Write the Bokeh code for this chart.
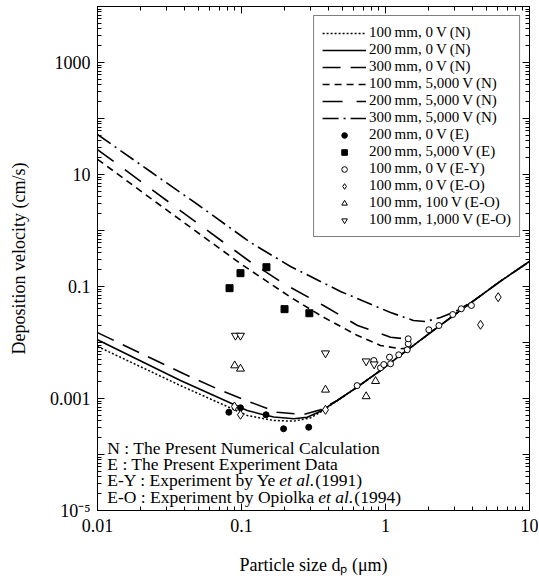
from bokeh.plotting import figure
from bokeh.models import (LogAxis, FixedTicker, CustomJSTickFormatter, Legend,
                          LegendItem, Label)
from bokeh.embed import file_html
from bokeh.resources import INLINE

FONT = "Liberation Serif"

# ---------------- numerical curves (N) ----------------
x_100_0V = [0.01, 0.0377, 0.0643, 0.1096, 0.1676, 0.2307, 0.301, 0.354, 0.462, 0.635, 0.923, 1.22, 2.15, 3.69, 6.3, 10]
y_100_0V = [0.0085, 0.0017, 0.00092, 0.000497, 0.000405, 0.000394, 0.00045, 0.00057, 0.00092, 0.00159, 0.00316, 0.0055, 0.0164, 0.0458, 0.125, 0.28]

x_200_0V = [0.01, 0.0377, 0.0643, 0.0885, 0.1096, 0.1355, 0.1676, 0.2307, 0.2857, 0.354, 0.462, 0.635, 0.923, 1.22, 2.15, 3.69, 6.3, 10]
y_200_0V = [0.0112, 0.0021, 0.00113, 0.00078, 0.00061, 0.00053, 0.000466, 0.000435, 0.000463, 0.00059, 0.00092, 0.00159, 0.00316, 0.0055, 0.0164, 0.0458, 0.125, 0.28]

x_300_0V = [0.01, 0.0397, 0.0678, 0.1155, 0.177, 0.271, 0.354, 0.462, 0.635, 0.923, 1.22, 2.15, 3.69, 6.3, 10]
y_300_0V = [0.015, 0.00276, 0.00149, 0.00086, 0.000569, 0.000518, 0.00063, 0.00092, 0.00159, 0.00316, 0.0055, 0.0164, 0.0458, 0.125, 0.28]

x_100_5kV = [0.01, 0.0233, 0.0519, 0.1, 0.219, 0.371, 0.64, 0.923, 1.27, 1.445]
y_100_5kV = [18.7, 3.79, 0.845, 0.249, 0.0644, 0.0283, 0.0133, 0.00884, 0.00773, 0.00798]

x_200_5kV = [0.01, 0.0233, 0.0519, 0.1155, 0.196, 0.371, 0.64, 1.084, 1.42, 1.49]
y_200_5kV = [27.9, 5.62, 1.23, 0.274, 0.113, 0.0458, 0.0201, 0.01245, 0.01153, 0.0085]

x_300_5kV = [0.01, 0.0233, 0.0519, 0.1155, 0.219, 0.487, 1.084, 1.563, 1.90, 2.41, 3.06, 3.71]
y_300_5kV = [51.8, 11.3, 2.68, 0.61, 0.228, 0.0815, 0.0343, 0.0247, 0.0237, 0.0279, 0.0358, 0.0478]

# ---------------- experimental data ----------------
x_E_200_0V = [0.0817, 0.0984, 0.148, 0.196, 0.293]
y_E_200_0V = [0.000569, 0.000682, 0.000512, 0.000288, 0.000307]

x_E_200_5kV = [0.0826, 0.0984, 0.149, 0.199, 0.296]
y_E_200_5kV = [0.0933, 0.173, 0.221, 0.0394, 0.0333]

x_EY_100_0V = [0.635, 0.83, 0.923, 0.973, 1.066, 1.084, 1.236, 1.415, 1.438, 1.438, 2.0, 2.35, 2.93, 3.36, 3.95]
y_EY_100_0V = [0.0017, 0.00477, 0.00353, 0.00404, 0.00547, 0.00417, 0.00603, 0.00742, 0.00948, 0.01164, 0.01687, 0.0201, 0.0316, 0.04, 0.0458]

x_EO_100_0V = [0.0893, 0.0984, 0.383, 4.57, 6.06]
y_EO_100_0V = [0.00072, 0.000512, 0.000628, 0.0207, 0.0644]

x_EO_100_100V = [0.0897, 0.0984, 0.383, 0.734, 0.853]
y_EO_100_100V = [0.00388, 0.00339, 0.00143, 0.00109, 0.00204]

x_EO_100_1kV = [0.0908, 0.0984, 0.383, 0.734, 0.834]
y_EO_100_1kV = [0.0133, 0.0133, 0.00644, 0.00463, 0.00409]

T = "\u2009"
labels = [
    f"100{T}mm, 0{T}V{T}(N)", f"200{T}mm, 0{T}V{T}(N)", f"300{T}mm, 0{T}V{T}(N)",
    f"100{T}mm, 5,000{T}V{T}(N)", f"200{T}mm, 5,000{T}V{T}(N)", f"300{T}mm, 5,000{T}V{T}(N)",
    f"200{T}mm, 0{T}V{T}(E)", f"200{T}mm, 5,000{T}V{T}(E)", f"100{T}mm, 0{T}V{T}(E-Y)",
    f"100{T}mm, 0{T}V{T}(E-O)", f"100{T}mm, 100{T}V{T}(E-O)", f"100{T}mm, 1,000{T}V{T}(E-O)",
]

x_major = [0.01, 0.1, 1, 10]
y_major = [10.0 ** e for e in range(-5, 5)]
x_minor = [m * 10.0 ** e for e in range(-2, 1) for m in range(2, 10)]
y_minor = [m * 10.0 ** e for e in range(-5, 4) for m in range(2, 10)]

p = figure(x_axis_type="log", y_axis_type="log", x_range=(0.01, 10), y_range=(1e-5, 1e4),
           frame_width=432, frame_height=504, output_backend="svg", toolbar_location=None,
           min_border_left=97, min_border_right=9, min_border_top=6, min_border_bottom=0,
           background_fill_color="white", border_fill_color="white")
p.xgrid.visible = False
p.ygrid.visible = False
p.outline_line_color = "black"
p.outline_line_width = 1

xt = FixedTicker(ticks=x_major, minor_ticks=x_minor)
yt = FixedTicker(ticks=y_major, minor_ticks=y_minor)
xfmt = CustomJSTickFormatter(code="""
const e = Math.round(Math.log10(tick));
return e < 0 ? tick.toFixed(-e) : tick.toFixed(0);
""")
yfmt = CustomJSTickFormatter(code="""
const e = Math.round(Math.log10(tick));
if (Math.abs(e) % 2 == 0) return "";
if (e == -5) return "10⁻⁵";
if (e < 0) return tick.toFixed(-e);
return tick.toFixed(0);
""")
empty = CustomJSTickFormatter(code="return '';")

def style(ax):
    ax.major_tick_in = 7
    ax.major_tick_out = 0
    ax.minor_tick_in = 4
    ax.minor_tick_out = 0
    ax.axis_line_color = "black"
    ax.major_tick_line_color = "black"
    ax.minor_tick_line_color = "black"
    ax.major_label_text_font = FONT
    ax.major_label_text_font_size = "18px"
    ax.major_label_text_color = "black"
    ax.axis_label_text_font = FONT
    ax.axis_label_text_font_size = "18px"
    ax.axis_label_text_font_style = "normal"
    ax.axis_label_text_color = "black"

xa = p.xaxis[0]
xa.ticker = xt
xa.formatter = xfmt
style(xa)
xa.major_label_standoff = 8
xa.axis_label = "Particle size dₚ (μm)"
xa.axis_label_standoff = 20

ya = p.yaxis[0]
ya.ticker = yt
ya.formatter = yfmt
style(ya)
ya.major_label_standoff = 7
ya.axis_label = "Deposition velocity (cm/s)"
ya.axis_label_standoff = 18

top = LogAxis(ticker=xt, formatter=empty)
right = LogAxis(ticker=yt, formatter=empty)
for ax in (top, right):
    style(ax)
    ax.major_label_text_font_size = "0px"
    ax.major_label_standoff = 0
p.add_layout(top, "above")
p.add_layout(right, "right")

LW = 1.6
r1 = p.line(x_100_0V, y_100_0V, line_color="black", line_width=1.5, line_dash="2 2")
r2 = p.line(x_200_0V, y_200_0V, line_color="black", line_width=LW)
r3 = p.line(x_300_0V, y_300_0V, line_color="black", line_width=LW, line_dash="18 10")
r4 = p.line(x_100_5kV, y_100_5kV, line_color="black", line_width=LW, line_dash="7 5")
r5 = p.line(x_200_5kV, y_200_5kV, line_color="black", line_width=LW, line_dash="20 14")
r6 = p.line(x_300_5kV, y_300_5kV, line_color="black", line_width=LW, line_dash="16 5 2 5")

s1 = p.scatter(x_E_200_0V, y_E_200_0V, marker="circle", size=6, fill_color="black", line_color="black")
s2 = p.scatter(x_E_200_5kV, y_E_200_5kV, marker="square", size=7, fill_color="black", line_color="black")
s3 = p.scatter(x_EY_100_0V, y_EY_100_0V, marker="circle", size=6, fill_color="white", line_color="black", line_width=1)
s4 = p.scatter(x_EO_100_0V, y_EO_100_0V, marker="diamond", size=9, fill_color="white", line_color="black", line_width=1)
s5 = p.scatter(x_EO_100_100V, y_EO_100_100V, marker="triangle", size=8, fill_color="white", line_color="black", line_width=1)
s6 = p.scatter(x_EO_100_1kV, y_EO_100_1kV, marker="inverted_triangle", size=8, fill_color="white", line_color="black", line_width=1)

rends = [r1, r2, r3, r4, r5, r6, s1, s2, s3, s4, s5, s6]
items = [LegendItem(label=l, renderers=[r]) for l, r in zip(labels, rends)]
legend = Legend(items=items, location="top_right", border_line_color="black", border_line_width=1,
                label_text_font=FONT, label_text_font_size="15px", label_text_color="black",
                glyph_width=44, glyph_height=14, label_height=14, spacing=0, padding=8,
                margin=9, label_standoff=3, background_fill_color="white", background_fill_alpha=1)
p.add_layout(legend)

# bottom-left notes
TX = 0.0117
note_y = [1.33e-4, 6.9e-5, 3.44e-5, 1.71e-5]
NS = "17.5px"

def note(text, y, dx=0, italic=False):
    p.add_layout(Label(x=TX, y=y, x_offset=dx, text=text, text_font=FONT, text_font_size=NS,
                       text_font_style="italic" if italic else "normal",
                       text_baseline="middle", text_align="left", text_color="black"))

note("N : The Present Numerical Calculation", note_y[0])
note("E : The Present Experiment Data", note_y[1])
note("E-Y : Experiment by Ye", note_y[2])
note("et al.", note_y[2], dx=172, italic=True)
note("(1991)", note_y[2], dx=208)
note("E-O : Experiment by Opiolka", note_y[3])
note("et al.", note_y[3], dx=211, italic=True)
note("(1994)", note_y[3], dx=247)

open("out.html", "w").write(file_html(p, INLINE))
